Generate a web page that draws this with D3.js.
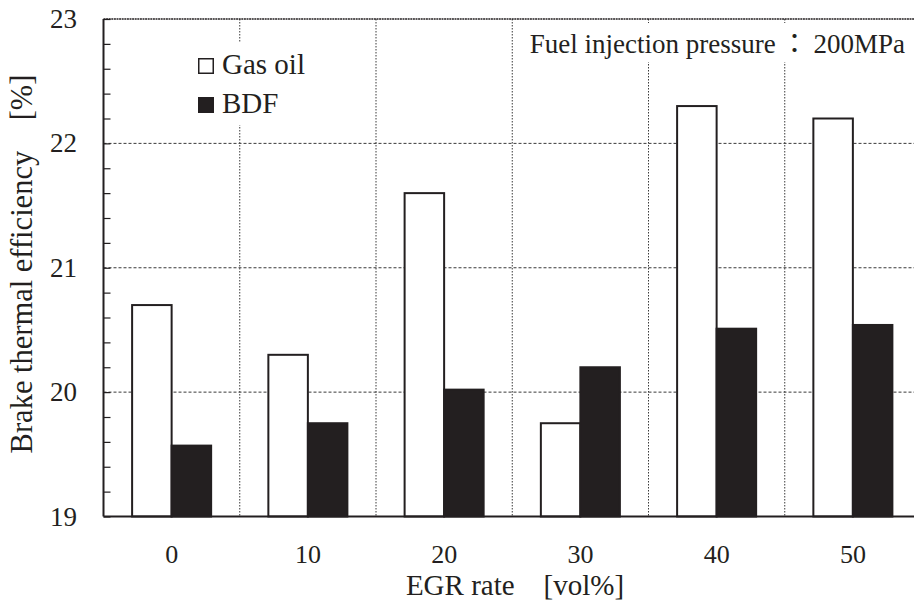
<!DOCTYPE html>
<html>
<head>
<meta charset="utf-8">
<script src="https://cdn.jsdelivr.net/npm/d3@7"></script>
<style>
  html, body { margin: 0; padding: 0; background: #fff; }
  svg { display: block; overflow: hidden; }
</style>
</head>
<body>
<svg id="chart" width="914" height="603"></svg>
<script>
// EGR rate vs brake thermal efficiency, gas oil vs BDF
const EGR_RATES = ['0', '10', '20', '30', '40', '50'];
const GAS_OIL   = [20.70, 20.30, 21.60, 19.75, 22.30, 22.20];
const BDF       = [19.57, 19.75, 20.02, 20.20, 20.51, 20.54];
const SERIES    = ['Gas oil', 'BDF'];
const Y_TICKS   = [19, 20, 21, 22, 23];

const INK = '#231f20';
const SERIF = 'Liberation Serif';
const SERIF_CJK = '"Liberation Serif", "Noto Sans CJK JP", serif';

// plot box — right edge runs just past the window, like the original
const M = { left: 103.5, right: 921, top: 19, bottom: 516.5 };

const svg = d3.select('#chart');

const x0 = d3.scaleBand()
    .domain(EGR_RATES)
    .range([M.left, M.right])
    .paddingInner(0.42)
    .paddingOuter(0.21);

const x1 = d3.scaleBand()
    .domain(SERIES)
    .range([0, x0.bandwidth()]);

const y = d3.scaleLinear().domain([19, 23]).range([M.bottom, M.top]);

const rows = EGR_RATES.map((c, i) => ({ cat: c, values: [
    { key: 'Gas oil', v: GAS_OIL[i] },
    { key: 'BDF', v: BDF[i] },
]}));

// ── grid ────────────────────────────────────────────────────────────────
const step = x0.step();
const bounds = EGR_RATES.slice(0, -1).map(c => x0(c) + x0.bandwidth() / 2 + step / 2);

svg.append('g').selectAll('line')
    .data(bounds)
    .join('line')
    .attr('x1', d => d).attr('x2', d => d)
    .attr('y1', M.top).attr('y2', M.bottom)
    .attr('stroke', '#3a3a3a').attr('stroke-width', 1)
    .attr('stroke-dasharray', '1.5,1.5');

svg.append('g').selectAll('line')
    .data(Y_TICKS.filter(t => t > 19 && t < 23))
    .join('line')
    .attr('x1', M.left).attr('x2', M.right)
    .attr('y1', d => y(d)).attr('y2', d => y(d))
    .attr('stroke', '#3a3a3a').attr('stroke-width', 1)
    .attr('stroke-dasharray', '3,2');

// top frame line
svg.append('line')
    .attr('x1', M.left).attr('x2', M.right)
    .attr('y1', M.top).attr('y2', M.top)
    .attr('stroke', INK).attr('stroke-width', 1.3)
    .attr('stroke-dasharray', '2,0.6');

// ── bars ────────────────────────────────────────────────────────────────
svg.append('g').selectAll('g')
    .data(rows)
    .join('g')
    .attr('transform', d => `translate(${x0(d.cat)},0)`)
    .selectAll('rect')
    .data(d => d.values)
    .join('rect')
    .attr('x', d => x1(d.key))
    .attr('y', d => y(d.v))
    .attr('width', x1.bandwidth())
    .attr('height', d => y(19) - y(d.v))
    .attr('fill', d => d.key === 'BDF' ? INK : '#fff')
    .attr('stroke', INK)
    .attr('stroke-width', 2);

// ── axes ────────────────────────────────────────────────────────────────
const yAxis = d3.axisRight(y)
    .tickValues(d3.range(19, 23.001, 0.2))
    .tickSize(7)
    .tickFormat('');
svg.append('g')
    .attr('transform', `translate(${M.left},0)`)
    .call(yAxis)
    .call(g => g.select('.domain').remove())
    .call(g => g.selectAll('line').attr('stroke', INK).attr('stroke-width', 1.2));

svg.append('line')
    .attr('x1', M.left).attr('x2', M.left)
    .attr('y1', M.top).attr('y2', M.bottom)
    .attr('stroke', INK).attr('stroke-width', 2);
svg.append('line')
    .attr('x1', M.left).attr('x2', M.right)
    .attr('y1', M.bottom).attr('y2', M.bottom)
    .attr('stroke', INK).attr('stroke-width', 2);

// y tick labels
svg.append('g').selectAll('text')
    .data(Y_TICKS)
    .join('text')
    .attr('x', 77)
    .attr('y', d => y(d) + 9)
    .attr('text-anchor', 'end')
    .attr('font-family', SERIF).attr('font-size', 27)
    .attr('fill', INK)
    .text(d => d);

// x tick labels
svg.append('g').selectAll('text')
    .data(EGR_RATES)
    .join('text')
    .attr('x', d => x0(d) + x0.bandwidth() / 2)
    .attr('y', 562.5)
    .attr('text-anchor', 'middle')
    .attr('font-family', SERIF).attr('font-size', 26)
    .attr('fill', INK)
    .text(d => d);

// axis titles
svg.append('text')
    .attr('x', 515).attr('y', 594.5)
    .attr('text-anchor', 'middle')
    .attr('font-family', SERIF_CJK).attr('font-size', 29)
    .attr('fill', INK)
    .text('EGR rate\u3000[vol%]');

svg.append('text')
    .attr('transform', 'translate(32,264) rotate(-90)')
    .attr('text-anchor', 'middle')
    .attr('font-family', SERIF_CJK).attr('font-size', 30.5)
    .attr('fill', INK)
    .text('Brake thermal efficiency\u3000[%]');

// ── legend ──────────────────────────────────────────────────────────────
svg.append('rect')
    .attr('x', 190).attr('y', 43).attr('width', 125).attr('height', 82)
    .attr('fill', '#fff');

const leg = svg.append('g').selectAll('g')
    .data(SERIES)
    .join('g')
    .attr('transform', (d, i) => `translate(198,${58 + i * 39})`);
leg.append('rect')
    .attr('x', 0.75).attr('y', 0.75).attr('width', 14.5).attr('height', 14.5)
    .attr('fill', d => d === 'BDF' ? INK : '#fff')
    .attr('stroke', INK).attr('stroke-width', 1.5);
leg.append('text')
    .attr('x', 24).attr('y', 15.5)
    .attr('font-family', SERIF).attr('font-size', 29)
    .attr('fill', INK)
    .text(d => d);

// ── condition note ──────────────────────────────────────────────────────
svg.append('rect')
    .attr('x', 520).attr('y', 23).attr('width', 392).attr('height', 39)
    .attr('fill', '#fff');
svg.append('text')
    .attr('x', 905).attr('y', 53)
    .attr('text-anchor', 'end')
    .attr('font-family', SERIF_CJK).attr('font-size', 27)
    .attr('fill', INK)
    .text('Fuel injection pressure\u2009：\u2009200MPa');
</script>
</body>
</html>
